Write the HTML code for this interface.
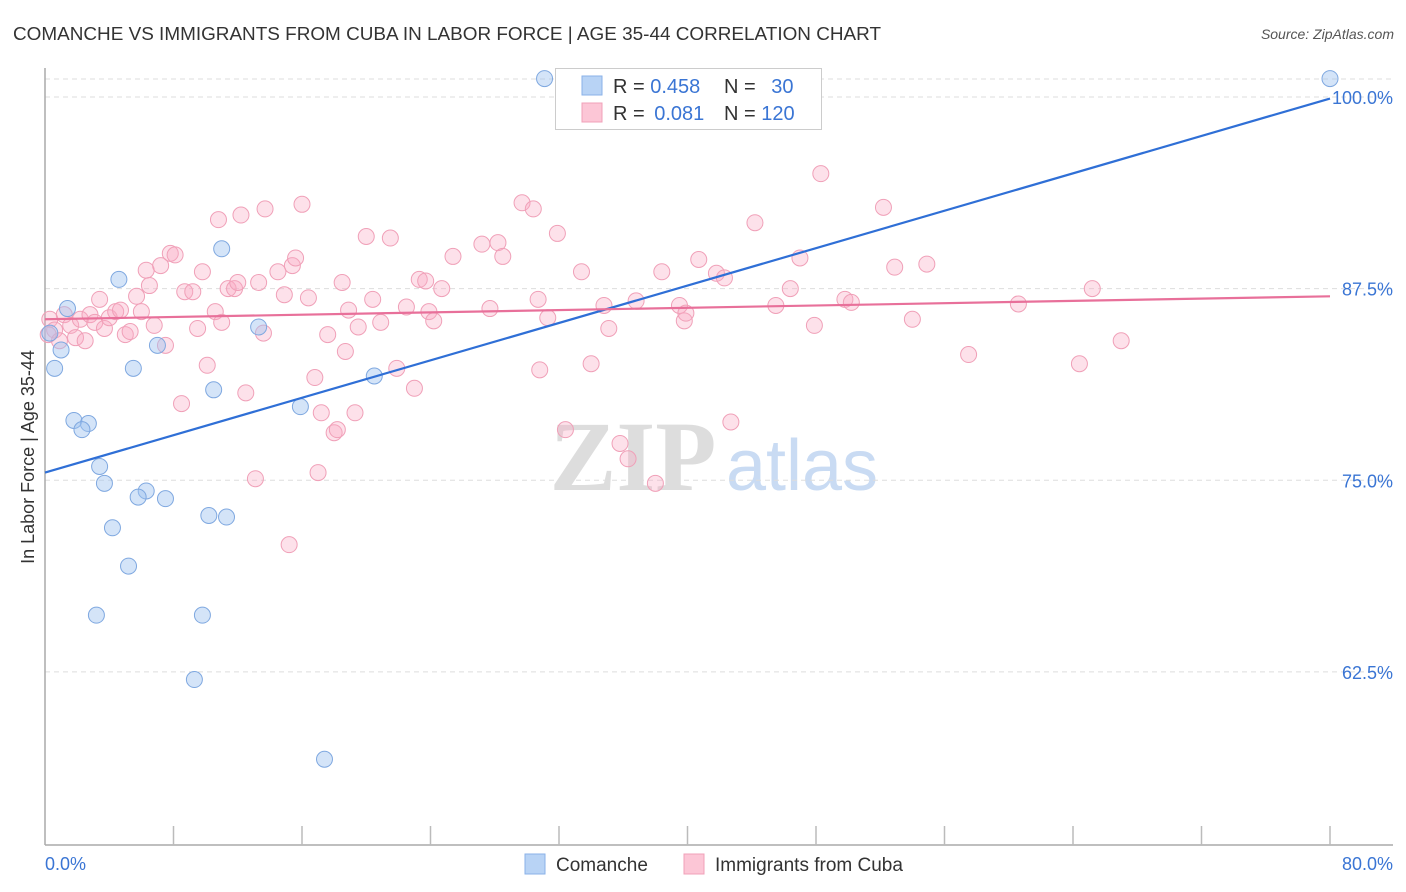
<!DOCTYPE html>
<html><head><meta charset="utf-8">
<style>
body{margin:0;background:#fff;font-family:"Liberation Sans",sans-serif;}
svg{display:block}
</style></head>
<body>
<svg id="chart" width="1406" height="892" xmlns="http://www.w3.org/2000/svg">
<text x="13" y="40" font-size="18" fill="#333" textLength="868" lengthAdjust="spacingAndGlyphs">COMANCHE VS IMMIGRANTS FROM CUBA IN LABOR FORCE | AGE 35-44 CORRELATION CHART</text>
<text x="1394" y="39" font-size="14" fill="#555" font-style="italic" text-anchor="end">Source: ZipAtlas.com</text>
<text x="34" y="457" font-size="18" fill="#333" text-anchor="middle" transform="rotate(-90 34 457)">In Labor Force | Age 35-44</text>
<g>
<text x="633" y="490" font-size="100" font-family="Liberation Serif,serif" font-weight="bold" fill="#ddd" text-anchor="middle">ZIP</text>
<text x="802" y="490" font-size="72" fill="#c9dbf3" text-anchor="middle">atlas</text>
</g>
<g id="grid"></g>
<g id="axes"></g>
<g id="pts"></g>
<g id="trends"></g>
<g>
<rect x="555.5" y="68.5" width="266" height="61" fill="#fff" stroke="#ccc"/>
<rect x="582" y="76" width="20" height="19" fill="#b8d3f5" stroke="#8ab2e8"/>
<rect x="582" y="103" width="20" height="19" fill="#fcc6d6" stroke="#f0a0b8"/>
<text x="613" y="93" font-size="20" fill="#333">R = <tspan fill="#3a75d4">0.458</tspan></text>
<text x="724" y="93" font-size="20" fill="#333">N = <tspan fill="#3a75d4" dx="10">30</tspan></text>
<text x="613" y="120" font-size="20" fill="#333">R = <tspan fill="#3a75d4" dx="4">0.081</tspan></text>
<text x="724" y="120" font-size="20" fill="#333">N = <tspan fill="#3a75d4">120</tspan></text>
</g>
<g>
<rect x="525" y="854" width="20" height="20" fill="#b8d3f5" stroke="#8ab2e8"/>
<text x="556" y="871" font-size="19" fill="#333">Comanche</text>
<rect x="684" y="854" width="20" height="20" fill="#fcc6d6" stroke="#f0a0b8"/>
<text x="715" y="871" font-size="19" fill="#333">Immigrants from Cuba</text>
</g>
</svg>
<script>
const yTicks=[100,87.5,75,62.5];
const yTickLabels=["100.0%","87.5%","75.0%","62.5%"];
const xTickLabels=["0.0%","80.0%"];
const comancheX=[31.1,80.0,11.0,4.6,1.4,13.3,0.3,1.0,7.0,0.6,5.5,20.5,10.5,15.9,1.8,2.7,2.3,3.4,3.7,6.3,5.8,7.5,10.2,11.3,4.2,5.2,3.2,9.8,9.3,17.4];
const comancheY=[101.2,101.2,90.1,88.1,86.2,85.0,84.6,83.5,83.8,82.3,82.3,81.8,80.9,79.8,78.9,78.7,78.3,75.9,74.8,74.3,73.9,73.8,72.7,72.6,71.9,69.4,66.2,66.2,62.0,56.8];
const cubaX=[0.3,0.6,0.9,0.2,1.2,1.6,1.9,2.2,2.5,2.8,3.1,3.4,3.7,4.0,4.4,4.7,5.0,5.3,5.7,6.0,6.3,6.5,6.8,7.2,7.5,7.8,8.1,8.5,8.7,9.2,9.5,9.8,10.1,10.6,10.8,11.0,11.4,11.8,12.0,12.2,12.5,13.1,13.3,13.6,13.7,14.5,14.9,15.2,15.4,15.6,16.0,16.4,16.8,17.0,17.2,17.6,18.0,18.2,18.5,18.7,18.9,19.3,19.5,20.0,20.4,20.9,21.5,21.9,22.5,23.0,23.3,23.7,23.9,24.2,24.7,25.4,27.2,27.7,28.2,28.5,29.7,30.4,30.7,30.8,31.3,31.9,32.4,33.4,34.0,34.8,35.1,35.8,36.3,36.8,38.0,38.4,39.5,39.8,39.9,40.7,41.8,42.3,42.7,44.2,45.5,46.4,47.0,47.9,48.3,49.8,50.2,52.2,52.9,54.0,54.9,57.5,60.6,64.4,65.2,67.0];
const cubaY=[85.5,84.8,84.1,84.5,85.8,85.1,84.3,85.5,84.1,85.8,85.3,86.8,84.9,85.6,86.0,86.1,84.5,84.7,87.0,86.0,88.7,87.7,85.1,89.0,83.8,89.8,89.7,80.0,87.3,87.3,84.9,88.6,82.5,86.0,92.0,85.3,87.5,87.5,87.9,92.3,80.7,75.1,87.9,84.6,92.7,88.6,87.1,70.8,89.0,89.5,93.0,86.9,81.7,75.5,79.4,84.5,78.1,78.3,87.9,83.4,86.1,79.4,85.0,90.9,86.8,85.3,90.8,82.3,86.3,81.0,88.1,88.0,86.0,85.4,87.5,89.6,90.4,86.2,90.5,89.6,93.1,92.7,86.8,82.2,85.6,91.1,78.3,88.6,82.6,86.4,84.9,77.4,76.4,86.7,74.8,88.6,86.4,85.4,85.9,89.4,88.5,88.2,78.8,91.8,86.4,87.5,89.5,85.1,95.0,86.8,86.6,92.8,88.9,85.5,89.1,83.2,86.5,82.6,87.5,84.1];
const comancheTrend=[75.5,99.9];
const cubaTrend=[85.5,87.0];
const NS="http://www.w3.org/2000/svg";
const X0=45,X1=1330,XMAX=80;
const xs=v=>X0+(v/XMAX)*(X1-X0);
const ys=v=>97+(100-v)*15.33;
function mk(t,a,p){const e=document.createElementNS(NS,t);for(const k in a)e.setAttribute(k,a[k]);document.getElementById(p).appendChild(e);return e;}
let g=mk('line',{x1:45,x2:1393,y1:79,y2:79,stroke:'#ddd','stroke-dasharray':'5,4'},'grid');


yTicks.forEach((v,i)=>{
 const l=mk('line',{x1:45,x2:1393,y1:ys(v),y2:ys(v),stroke:'#ddd','stroke-dasharray':'5,4'},'grid');
 
 
 const t=mk('text',{x:1393,y:ys(v)+7,'font-size':18,fill:'#3a75d4','text-anchor':'end'},'grid');
 t.textContent=yTickLabels[i];
 
 
});
let a=mk('line',{x1:45,x2:45,y1:68,y2:845,stroke:'#aaa','stroke-width':1.5},'axes');


a=mk('line',{x1:45,x2:1393,y1:845,y2:845,stroke:'#aaa','stroke-width':1.5},'axes');


for(let i=1;i<=10;i++){
 const x=X0+i*(X1-X0)/10;
 const t=mk('line',{x1:x,x2:x,y1:826,y2:845,stroke:'#bbb','stroke-width':1.5},'axes');
 
 
}
[[0,'start',45],[80,'end',1393]].forEach((d,i)=>{
 const t=mk('text',{x:d[2],y:870,'font-size':18,fill:'#3a75d4','text-anchor':d[1]},'axes');
 t.textContent=xTickLabels[i];
 
 
});
cubaX.forEach((x,i)=>{
 const c=mk('circle',{cx:xs(x),cy:ys(cubaY[i]),r:8,fill:'rgba(248,170,195,0.35)',stroke:'#f0a0b8','stroke-width':1},'pts');
 
 
});
comancheX.forEach((x,i)=>{
 const c=mk('circle',{cx:xs(x),cy:ys(comancheY[i]),r:8,fill:'rgba(160,195,240,0.45)',stroke:'#7fa8e0','stroke-width':1},'pts');
 
 
});
let tl=mk('line',{x1:xs(0),x2:xs(80),y1:ys(comancheTrend[0]),y2:ys(comancheTrend[1]),stroke:'#2f6fd6','stroke-width':2.2},'trends');


tl=mk('line',{x1:xs(0),x2:xs(80),y1:ys(cubaTrend[0]),y2:ys(cubaTrend[1]),stroke:'#e8709a','stroke-width':2.2},'trends');


</script>
</body></html>
